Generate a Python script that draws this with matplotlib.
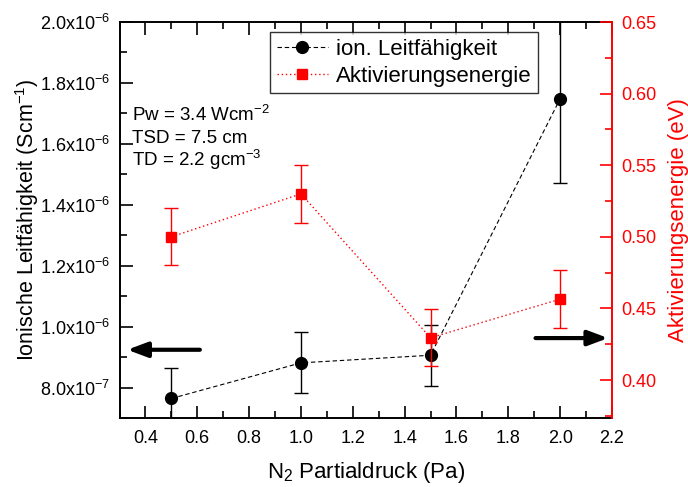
import matplotlib
matplotlib.use("Agg")
import matplotlib.pyplot as plt
from matplotlib.ticker import MultipleLocator, FuncFormatter

plt.rcParams['font.family'] = ['Liberation Sans', 'DejaVu Sans']
plt.rcParams['mathtext.fontset'] = 'custom'
plt.rcParams['mathtext.rm'] = 'Liberation Sans'
plt.rcParams['mathtext.it'] = 'Liberation Sans:italic'
plt.rcParams['mathtext.bf'] = 'Liberation Sans:bold'

# data
pressure = [0.5, 1.0, 1.5, 2.0]
conductivity = [7.64e-7, 8.81e-7, 9.06e-7, 1.748e-6]
conductivity_err = [1.0e-7, 1.0e-7, 1.0e-7, 2.76e-7]
energy = [0.500, 0.530, 0.4295, 0.4565]
energy_err = [0.02, 0.02, 0.02, 0.02]


def sci_label(v, pos):
    if v == 0:
        return "0"
    exp = int(f"{v:e}".split("e")[1])
    mant = v / 10 ** exp
    return f"{mant:.1f}x10$^{{{exp}}}$"


fig = plt.figure(figsize=(6.88, 4.87), dpi=100)
ax = fig.add_axes([0.1737, 0.1417, 0.7158, 0.8131])
ax2 = ax.twinx()

l1 = ax.errorbar(pressure, conductivity, yerr=conductivity_err, color='black',
                 linestyle=(0, (4, 2.5)), linewidth=0.8, marker='o', markersize=8.5,
                 elinewidth=1.0, capsize=5, capthick=1.0, label='ion. Leitfähigkeit')
l2 = ax2.errorbar(pressure, energy, yerr=energy_err, color='red',
                  linestyle=(0, (1, 2)), linewidth=1.0, marker='s', markersize=7.5,
                  elinewidth=1.0, capsize=5, capthick=1.0, label='Aktivierungsenergie')

ax.set_xlim(0.3, 2.2)
ax.set_ylim(7.0e-7, 2.0e-6)
ax2.set_ylim(0.3735, 0.65)

ax.xaxis.set_major_locator(MultipleLocator(0.2))
ax.xaxis.set_minor_locator(MultipleLocator(0.1))
ax.yaxis.set_major_locator(MultipleLocator(2e-7))
ax.yaxis.set_minor_locator(MultipleLocator(1e-7))
ax.yaxis.set_major_formatter(FuncFormatter(sci_label))
ax2.yaxis.set_major_locator(MultipleLocator(0.05))
ax2.yaxis.set_minor_locator(MultipleLocator(0.025))
ax2.yaxis.set_major_formatter(FuncFormatter(lambda v, p: f"{v:.2f}"))

ax.tick_params(which='both', direction='in', top=True, right=False, width=1.2,
               labelsize=13, pad=7)
ax.tick_params(axis='x', pad=9)
ax.tick_params(which='major', length=9)
ax.tick_params(which='minor', length=5)
ax2.tick_params(which='both', direction='in', colors='red', width=1.2,
                labelsize=13, pad=7)
ax2.tick_params(which='major', length=9)
ax2.tick_params(which='minor', length=5)

for s in ['left', 'bottom', 'top']:
    ax.spines[s].set_linewidth(1.4)
ax.spines['right'].set_visible(False)
ax2.spines['left'].set_visible(False)
ax2.spines['top'].set_visible(False)
ax2.spines['bottom'].set_visible(False)
ax2.spines['right'].set_color('red')
ax2.spines['right'].set_linewidth(1.4)

ax.set_xlabel('N$_2$ Partialdruck (Pa)', fontsize=16, labelpad=9)
ax.set_ylabel('Ionische Leitfähigkeit (Scm$^{-1}$)', fontsize=15.5, labelpad=-1)
ax2.set_ylabel('Aktivierungsenergie (eV)', fontsize=16, color='red', labelpad=8)

ax.text(0.025, 0.75, 'Pw = 3.4 Wcm$^{-2}$', transform=ax.transAxes, fontsize=13.5)
ax.text(0.025, 0.6937, 'TSD = 7.5 cm', transform=ax.transAxes, fontsize=13.5)
ax.text(0.025, 0.636, 'TD = 2.2 gcm$^{-3}$', transform=ax.transAxes, fontsize=13.5)

# arrows pointing at the matching axis
ax.annotate('', xy=(0.33, 9.24e-7), xytext=(0.61, 9.24e-7),
            arrowprops=dict(arrowstyle='-|>,head_length=1.2,head_width=0.45',
                            color='black', lw=3, shrinkA=0, shrinkB=0))
ax2.annotate('', xy=(2.185, 0.4293), xytext=(1.905, 0.4293),
             arrowprops=dict(arrowstyle='-|>,head_length=1.2,head_width=0.45',
                             color='black', lw=3, shrinkA=0, shrinkB=0))

leg = ax2.legend([l1[0], l2[0]], ['ion. Leitfähigkeit', 'Aktivierungsenergie'],
                 loc='upper left', bbox_to_anchor=(0.3056, 0.975), borderaxespad=0,
                 fontsize=16, frameon=True, fancybox=False, handlelength=2.3,
                 borderpad=0.3, labelspacing=0.27, handletextpad=0.35)
leg.get_frame().set_edgecolor('black')
leg.get_frame().set_linewidth(1.0)

fig.savefig('out.png', dpi=100)
